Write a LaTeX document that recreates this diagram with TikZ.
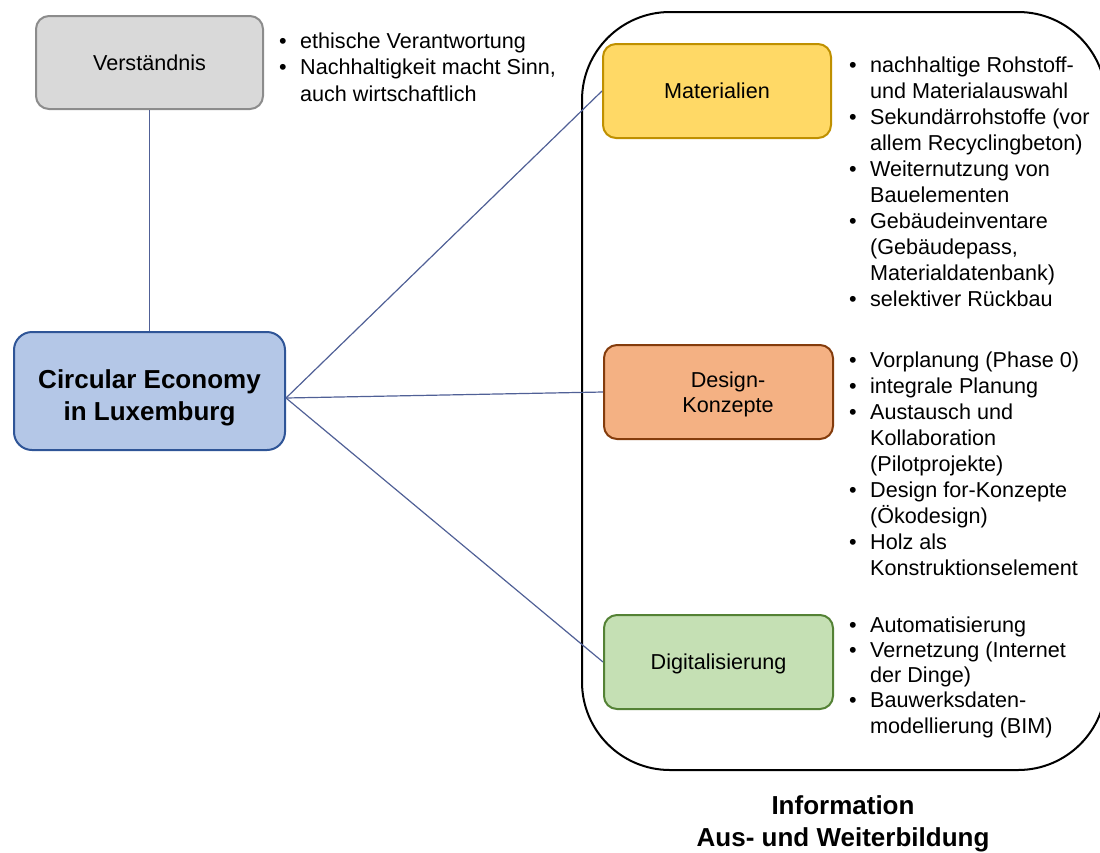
\documentclass[tikz,border=0pt]{standalone}
\usepackage{fontspec}
\setmainfont{Liberation Sans}

\definecolor{linkblue}{RGB}{80,96,150}
\definecolor{grayfill}{HTML}{D9D9D9}
\definecolor{graydraw}{RGB}{140,140,140}
\definecolor{bluefill}{HTML}{B4C7E7}
\definecolor{bluedraw}{HTML}{2F5597}
\definecolor{yellowfill}{HTML}{FFD966}
\definecolor{yellowdraw}{HTML}{BF9000}
\definecolor{orangefill}{HTML}{F4B183}
\definecolor{orangedraw}{HTML}{843C0C}
\definecolor{greenfill}{HTML}{C5E0B4}
\definecolor{greendraw}{HTML}{548235}

% bullet list: first column holds the bullet, second the text
\newcommand{\bulletlist}[1]{\begin{tabular}[t]{@{}l@{\hspace{13.4pt}}l@{}}#1\end{tabular}}

\begin{document}
\begin{tikzpicture}[x=1pt,y=-1pt,
  box/.style={draw, line width=2pt, rounded corners=13pt, inner sep=0pt,
    font=\fontsize{21.6pt}{25pt}\selectfont, text height=15.5pt, text depth=0pt},
  listtext/.style={anchor=base west, inner sep=0pt},
  link/.style={draw=linkblue, line width=1.2pt},
  titletext/.style={anchor=base, inner sep=0pt,
    font=\bfseries\fontsize{26pt}{32pt}\selectfont}
]
\useasboundingbox (0,0) rectangle (1100,852);

% frame around the three fields of action
\draw[line width=2pt, rounded corners=88pt] (582,12) rectangle (1106,770);

% boxes
\node[box, fill=grayfill, draw=graydraw, minimum width=227pt, minimum height=93pt]
  (ver) at (149.5,62.5) {Verständnis};
\node[box, fill=bluefill, draw=bluedraw, rounded corners=18pt,
  minimum width=271pt, minimum height=118pt] (ce) at (149.5,391) {};
\node[box, fill=yellowfill, draw=yellowdraw, minimum width=228pt, minimum height=94pt]
  (mat) at (717,91) {Materialien};
\node[box, fill=orangefill, draw=orangedraw, minimum width=229pt, minimum height=94pt]
  (des) at (718.5,392) {};
\node[box, fill=greenfill, draw=greendraw, minimum width=229pt, minimum height=94pt]
  (dig) at (718.5,662) {Digitalisierung};

% multi-line box labels
\node[titletext, yshift=3pt] (cetext) at (ce)
  {\begin{tabular}[t]{@{}c@{}}Circular Economy\\in Luxemburg\end{tabular}};
\node[anchor=base, inner sep=0pt, font=\fontsize{21.6pt}{25pt}\selectfont,
  xshift=9.5pt, yshift=5pt] (destext) at (des)
  {\begin{tabular}[t]{@{}c@{}}Design-\\Konzepte\end{tabular}};

% connectors
\coordinate (hub) at ([yshift=-7pt]ce.east);
\draw[link] (ver.south) -- (ce.north);
\draw[link] (hub) -- (mat.west);
\draw[link] (hub) -- (des.west);
\draw[link] (hub) -- (dig.west);

% bullet lists
\node[listtext, font=\fontsize{21.6pt}{26.5pt}\selectfont] (verlist) at (279,48)
  {\bulletlist{• & ethische Verantwortung\\
               • & Nachhaltigkeit macht Sinn,\\
                 & auch wirtschaftlich}};
\node[listtext, font=\fontsize{21.6pt}{26.1pt}\selectfont] (matlist) at (849,72)
  {\bulletlist{• & nachhaltige Rohstoff-\\
                 & und Materialauswahl\\
               • & Sekundärrohstoffe (vor\\
                 & allem Recyclingbeton)\\
               • & Weiternutzung von\\
                 & Bauelementen\\
               • & Gebäudeinventare\\
                 & (Gebäudepass,\\
                 & Materialdatenbank)\\
               • & selektiver Rückbau}};
\node[listtext, font=\fontsize{21.6pt}{26pt}\selectfont] (deslist) at (849,367)
  {\bulletlist{• & Vorplanung (Phase 0)\\
               • & integrale Planung\\
               • & Austausch und\\
                 & Kollaboration\\
                 & (Pilotprojekte)\\
               • & Design for-Konzepte\\
                 & (Ökodesign)\\
               • & Holz als\\
                 & Konstruktionselement}};
\node[listtext, font=\fontsize{21.6pt}{25.3pt}\selectfont] (diglist) at (849,632)
  {\bulletlist{• & Automatisierung\\
               • & Vernetzung (Internet\\
                 & der Dinge)\\
               • & Bauwerksdaten-\\
                 & modellierung (BIM)}};

% caption below the frame
\node[titletext] (info) at (843,814)
  {\begin{tabular}[t]{@{}c@{}}Information\\Aus- und Weiterbildung\end{tabular}};
\end{tikzpicture}
\end{document}
